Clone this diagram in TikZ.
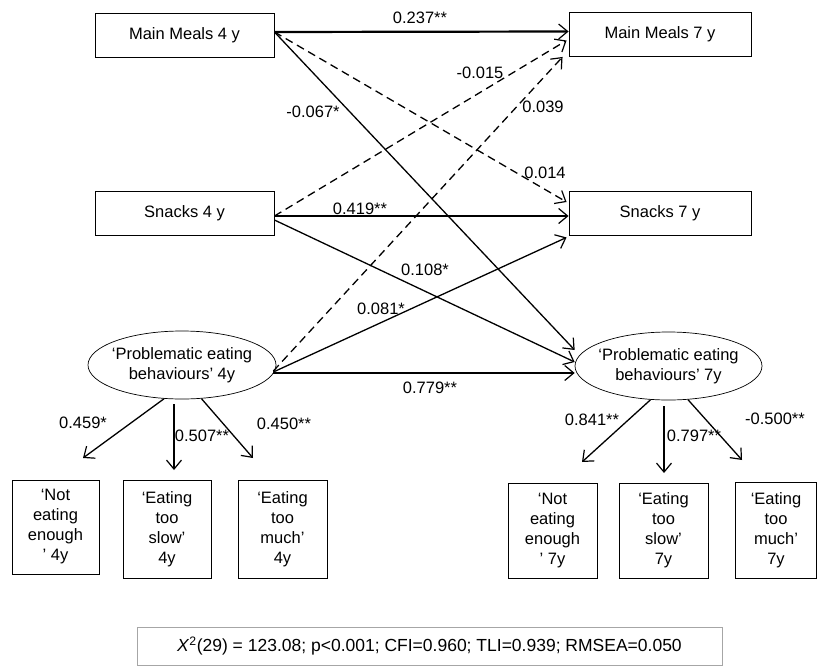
\documentclass[tikz,border=0pt]{standalone}
\usepackage{fontspec}
\setmainfont{Liberation Sans}
\usetikzlibrary{arrows.meta,shapes.geometric}
\begin{document}
\begin{tikzpicture}[x=1pt,y=-1pt,
  every node/.style={font=\fontsize{16.5}{20}\selectfont},
  vbox/.style={draw,line width=0.9pt,minimum width=179pt,minimum height=44pt,inner sep=0pt},
  ibox/.style={draw,line width=0.9pt,align=center,inner sep=0pt},
  lat/.style={draw,ellipse,line width=0.7pt,minimum width=188pt,minimum height=68pt,inner xsep=-25pt,inner ysep=-12pt,align=center},
  path/.style={line width=1.3pt,-{Straight Barb[length=9pt,width=15pt,line width=1.2pt]}},
  bold/.style={path,line width=2.2pt},
  dpath/.style={path,dash pattern=on 8pt off 5pt},
  lbl/.style={inner sep=0pt}]
\useasboundingbox (0,0) rectangle (818,666);
% observed variables
\node[vbox] (mm4) at (184.5,35) {Main Meals 4 y};
\node[vbox,minimum width=182pt] (mm7) at (660,34.5) {Main Meals 7 y};
\node[vbox] (sn4) at (184.5,213) {Snacks 4 y};
\node[vbox,minimum width=182pt] (sn7) at (660,213) {Snacks 7 y};
% latent variables
\node[lat] (peb4) at (182,365) {‘Problematic eating\\behaviours’ 4y};
\node[lat,minimum width=187pt] (peb7) at (668.5,366) {‘Problematic eating\\behaviours’ 7y};
% indicators 4y
\node[ibox,minimum width=87pt,minimum height=94pt] (a1) at (55.5,527) {‘Not\\eating\\enough\\’ 4y};
\node[ibox,minimum width=88pt,minimum height=98pt] (a2) at (167,529) {‘Eating\\too\\slow’\\4y};
\node[ibox,minimum width=89pt,minimum height=98pt] (a3) at (282.5,529) {‘Eating\\too\\much’\\4y};
% indicators 7y
\node[ibox,minimum width=89pt,minimum height=95pt] (b1) at (552.5,530.5) {‘Not\\eating\\enough\\’ 7y};
\node[ibox,minimum width=89pt,minimum height=95pt] (b2) at (663.5,530.5) {‘Eating\\too\\slow’\\7y};
\node[ibox,minimum width=81pt,minimum height=96pt] (b3) at (776,530) {‘Eating\\too\\much’\\7y};
% fit box
\node[draw=black!35,line width=0.9pt,minimum width=585pt,minimum height=38pt,inner sep=0pt,font=\fontsize{17.5}{20}\selectfont] (fit) at (429.5,646)
  {\textit{X}\textsuperscript{2}(29) = 123.08; p<0.001; CFI=0.960; TLI=0.939; RMSEA=0.050};
% structural paths
\draw[bold] ([yshift=3pt]mm4.east) -- ([yshift=3pt]mm7.west);
\draw[dpath] ([yshift=3pt]mm4.east) -- ([xshift=-2pt,yshift=11pt]sn7.west);
\draw[path] ([yshift=3pt]mm4.east) -- ([yshift=16pt]peb7.west);
\draw[dpath] ([yshift=-3pt]sn4.east) -- ([xshift=-2pt,yshift=-6pt]mm7.west);
\draw[path] ([yshift=-3pt]sn4.east) -- ([yshift=-3pt]sn7.west);
\draw[path] ([yshift=-7pt]sn4.east) -- ([yshift=4pt]peb7.west);
\draw[dpath] ([xshift=-3pt,yshift=-6pt]peb4.east) -- ([xshift=-6pt]mm7.south west);
\draw[path] ([xshift=-3pt,yshift=-7pt]peb4.east) -- ([xshift=-2pt,yshift=-2pt]sn7.south west);
\draw[bold] ([xshift=-3pt,yshift=-8pt]peb4.east) -- ([yshift=-7pt]peb7.west);
% measurement paths
\coordinate (t1) at (83,458);
\coordinate (t2) at (174,470);
\coordinate (t3) at (253,458);
\coordinate (u1) at (582,462);
\coordinate (u2) at (664,473);
\coordinate (u3) at (742,460);
\draw[path] (peb4.-118) -- (t1);
\draw[path] (peb4.south -| t2) ++(0,5) -- (t2);
\draw[path] (peb4.-60) -- (t3);
\draw[path] (peb7.-118) -- (u1);
\draw[path] (peb7.south -| u2) ++(0,6) -- (u2);
\draw[path] (peb7.-60) -- (u3);
% labels
\node[lbl] (l1) at (420,18) {0.237**};
\node[lbl] (l2) at (480,73) {-0.015};
\node[lbl] (l3) at (543,107) {0.039};
\node[lbl] (l4) at (313,112) {-0.067*};
\node[lbl] (l5) at (545,173) {0.014};
\node[lbl] (l6) at (360,209) {0.419**};
\node[lbl] (l7) at (425,270) {0.108*};
\node[lbl] (l8) at (381,309) {0.081*};
\node[lbl] (l9) at (430,388) {0.779**};
\node[lbl] (m1) at (83,423) {0.459*};
\node[lbl] (m2) at (202,436) {0.507**};
\node[lbl] (m3) at (284,424) {0.450**};
\node[lbl] (n1) at (592,420) {0.841**};
\node[lbl] (n2) at (694,436) {0.797**};
\node[lbl] (n3) at (775,419) {-0.500**};
\end{tikzpicture}
\end{document}
